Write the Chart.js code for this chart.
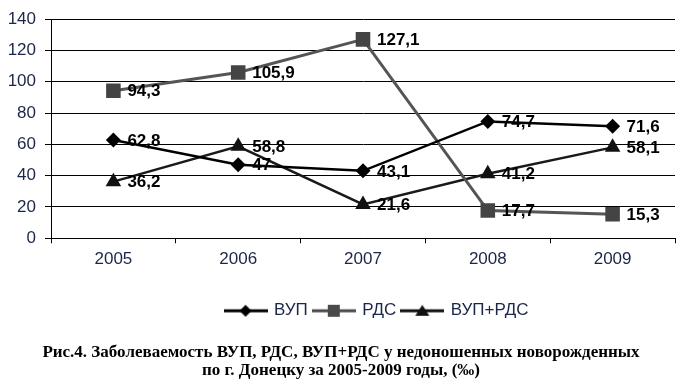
<!DOCTYPE html>
<html>
<head>
<meta charset="utf-8">
<script src="https://cdn.jsdelivr.net/npm/chart.js@4/dist/chart.umd.min.js"></script>
<style>
  html, body { margin: 0; padding: 0; background: #fff; }
  #wrap { width: 686px; height: 385px; }
</style>
</head>
<body>
<div id="wrap"><canvas id="c" width="686" height="385"></canvas></div>
<script>
// ---- data ----
const categories = ['2005', '2006', '2007', '2008', '2009'];
const vupValues = [62.8, 47, 43.1, 74.7, 71.6];          // ВУП
const rdsValues = [94.3, 105.9, 127.1, 17.7, 15.3];      // РДС
const vupRdsValues = [36.2, 58.8, 21.6, 41.2, 58.1];     // ВУП+РДС
const seriesNames = ['ВУП', 'РДС', 'ВУП+РДС'];
const yMin = 0, yMax = 140, yStep = 20;
const captionLines = [
  'Рис.4. Заболеваемость ВУП, РДС, ВУП+РДС у недоношенных новорожденных',
  'по г. Донецку за 2005-2009 годы, (‰)'
];

const TICK_COLOR = '#1b2748';
const SANS = '"Liberation Sans", Arial, sans-serif';

function fmt(v) { return String(v).replace('.', ','); }

// legend swatch: line with marker
function swatch(kind, color) {
  const cv = document.createElement('canvas');
  cv.width = 44; cv.height = 16;
  const g = cv.getContext('2d');
  g.strokeStyle = color; g.fillStyle = color; g.lineWidth = 3;
  g.beginPath(); g.moveTo(0, 8); g.lineTo(44, 8); g.stroke();
  g.beginPath();
  const cx = 22, cy = 8;
  if (kind === 'diamond') {
    g.moveTo(cx - 6, cy); g.lineTo(cx, cy - 6); g.lineTo(cx + 6, cy); g.lineTo(cx, cy + 6);
  } else if (kind === 'square') {
    g.rect(cx - 6, cy - 6, 12, 12);
  } else {
    g.moveTo(cx, cy - 6); g.lineTo(cx + 7, cy + 5); g.lineTo(cx - 7, cy + 5);
  }
  g.closePath(); g.fill();
  return cv;
}

const swatches = [swatch('diamond', '#000'), swatch('square', '#4a4a4a'), swatch('triangle', '#111')];

const dataLabelPlugin = {
  id: 'dataLabels',
  afterDatasetsDraw(chart) {
    const ctx = chart.ctx;
    ctx.save();
    ctx.font = 'bold 17px ' + SANS;
    ctx.fillStyle = '#000';
    ctx.textAlign = 'left';
    ctx.textBaseline = 'middle';
    chart.data.datasets.forEach((ds, i) => {
      const meta = chart.getDatasetMeta(i);
      meta.data.forEach((pt, j) => {
        ctx.fillText(fmt(ds.data[j]), pt.x + 14, pt.y + 1);
      });
    });
    ctx.restore();
  }
};

const shiftPlugin = {
  id: 'shiftBoxes',
  afterLayout(chart) {
    const lg = chart.legend;
    if (lg) {
      const d = 377 - (lg.left + lg.right) / 2;
      lg.left += d; lg.right += d;
    }
    const t = chart.titleBlock;
    if (t) {
      const d2 = 341 - (t.left + t.right) / 2;
      t.left += d2; t.right += d2;
    }
  }
};

new Chart(document.getElementById('c'), {
  type: 'line',
  data: {
    labels: categories,
    datasets: [
      {
        label: seriesNames[0], data: vupValues,
        borderColor: '#000', backgroundColor: '#000', borderWidth: 2.5,
        pointStyle: 'rectRot', pointRadius: 7.5, pointBorderWidth: 0,
        pointBackgroundColor: '#000', tension: 0
      },
      {
        label: seriesNames[1], data: rdsValues,
        borderColor: '#555555', backgroundColor: '#444444', borderWidth: 3,
        pointStyle: 'rect', pointRadius: 10.3, pointBorderWidth: 0,
        pointBackgroundColor: '#444444', tension: 0
      },
      {
        label: seriesNames[2], data: vupRdsValues,
        borderColor: '#1a1a1a', backgroundColor: '#111', borderWidth: 2.5,
        pointStyle: 'triangle', pointRadius: 9, pointBorderWidth: 0,
        pointBackgroundColor: '#111', tension: 0
      }
    ]
  },
  options: {
    responsive: false,
    animation: false,
    events: [],
    layout: { padding: { top: 18, right: 11, left: 0, bottom: 0 } },
    scales: {
      x: {
        offset: true,
        grid: { display: true, offset: true, drawOnChartArea: false, drawTicks: true, tickLength: 5, color: '#000', lineWidth: 1 },
        border: { display: true, color: '#000', width: 1 },
        ticks: { color: TICK_COLOR, font: { family: SANS, size: 17 }, padding: 6, maxRotation: 0 },
        afterFit(s) { s.height = 58; }
      },
      y: {
        min: yMin, max: yMax,
        grid: { color: '#000', lineWidth: 1, drawTicks: true, tickLength: 6 },
        border: { display: true, color: '#000', width: 1 },
        ticks: { stepSize: yStep, color: TICK_COLOR, font: { family: SANS, size: 17 }, padding: 9 },
        afterFit(s) { s.width = 51; }
      }
    },
    plugins: {
      tooltip: { enabled: false },
      legend: {
        position: 'bottom',
        labels: {
          color: TICK_COLOR,
          font: { family: SANS, size: 17 },
          padding: 6,
          usePointStyle: true,
          pointStyleWidth: 40,
          boxHeight: 16,
          generateLabels(chart) {
            return chart.data.datasets.map((ds, i) => ({
              text: ds.label,
              pointStyle: swatches[i],
              fillStyle: ds.backgroundColor,
              strokeStyle: ds.borderColor,
              lineWidth: 0,
              hidden: false,
              datasetIndex: i,
              fontColor: TICK_COLOR
            }));
          }
        }
      },
      title: {
        display: true,
        position: 'bottom',
        text: captionLines,
        color: '#000',
        font: { family: '"Liberation Serif", "Times New Roman", serif', size: 17, weight: 'bold', lineHeight: 1.08 },
        padding: { top: 14, bottom: 5 }
      }
    }
  },
  plugins: [dataLabelPlugin, shiftPlugin]
});
</script>
</body>
</html>
